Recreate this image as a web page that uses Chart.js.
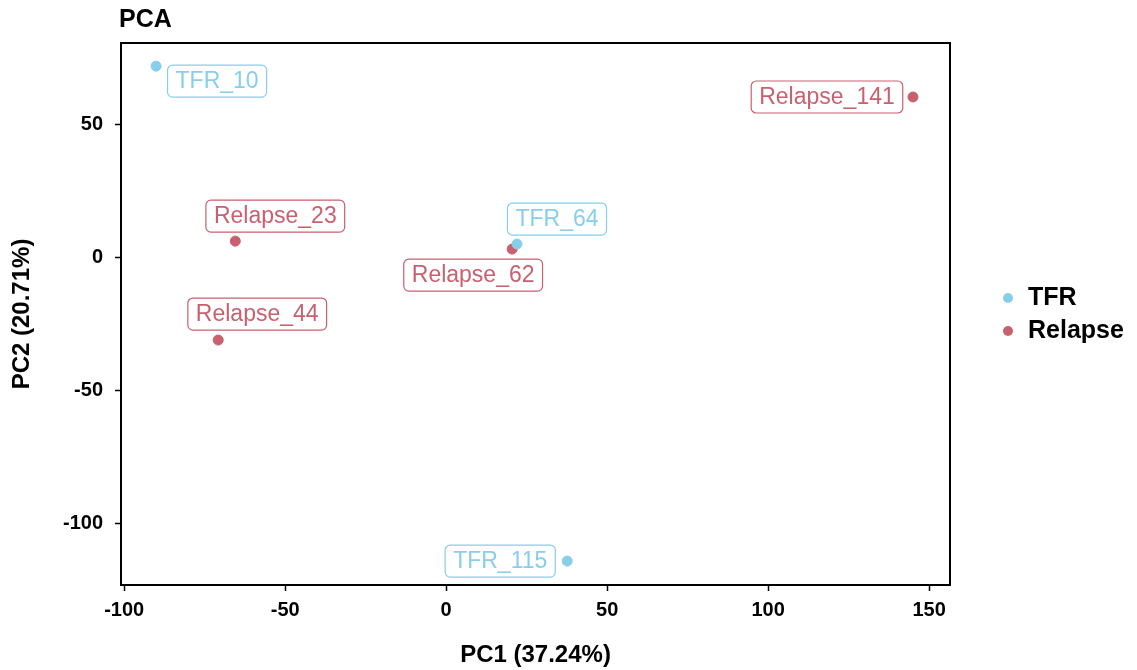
<!DOCTYPE html>
<html>
<head>
<meta charset="utf-8">
<script src="https://cdn.jsdelivr.net/npm/chart.js@4"></script>
<style>
  html, body { margin: 0; padding: 0; background: #fff; }
  #wrap { width: 1137px; height: 670px; }
</style>
</head>
<body>
<div id="wrap"><canvas id="pca"></canvas></div>
<script>
// PCA scatter: two groups, each sample labelled in a boxed tag.
var groupNames = ['TFR', 'Relapse'];

var tfrNames = ['TFR_10', 'TFR_64', 'TFR_115'];
var tfrPC1 = [-90.1, 22.0, 37.6];
var tfrPC2 = [71.8, 4.9, -114.3];

var relapseNames = ['Relapse_141', 'Relapse_23', 'Relapse_62', 'Relapse_44'];
var relapsePC1 = [145.0, -65.5, 20.5, -70.8];
var relapsePC2 = [60.2, 6.0, 3.0, -31.2];

var xTicks = [-100, -50, 0, 50, 100, 150];
var yTicks = [-100, -50, 0, 50];

var colors = { TFR: '#87ceeb', Relapse: '#c9606f' };

// where each tag sits relative to its point, in pixels
var tagOffset = {
  'TFR_10': [61, 15],
  'TFR_64': [40, -25],
  'TFR_115': [-67, 0],
  'Relapse_141': [-86, 0],
  'Relapse_23': [40, -25],
  'Relapse_62': [-39, 26],
  'Relapse_44': [39, -26]
};

var fam = '"Liberation Sans", Arial, Helvetica, sans-serif';

function toPoints(xs, ys, names) {
  return xs.map(function (x, i) { return { x: x, y: ys[i], name: names[i] }; });
}

function roundRect(ctx, x, y, w, h, r) {
  ctx.beginPath();
  ctx.moveTo(x + r, y);
  ctx.lineTo(x + w - r, y);
  ctx.arcTo(x + w, y, x + w, y + r, r);
  ctx.lineTo(x + w, y + h - r);
  ctx.arcTo(x + w, y + h, x + w - r, y + h, r);
  ctx.lineTo(x + r, y + h);
  ctx.arcTo(x, y + h, x, y + h - r, r);
  ctx.lineTo(x, y + r);
  ctx.arcTo(x, y, x + r, y, r);
  ctx.closePath();
}

var extras = {
  id: 'extras',
  afterDatasetsDraw: function (chart) {
    var ctx = chart.ctx;
    var a = chart.chartArea;
    var xs = chart.scales.x, ys = chart.scales.y;
    ctx.save();
    // sample tags
    ctx.font = '23px ' + fam;
    ctx.textAlign = 'center';
    ctx.textBaseline = 'middle';
    chart.data.datasets.forEach(function (ds) {
      ds.data.forEach(function (p) {
        var off = tagOffset[p.name] || [0, 0];
        var cx = xs.getPixelForValue(p.x) + off[0];
        var cy = ys.getPixelForValue(p.y) + off[1];
        var w = ctx.measureText(p.name).width + 16;
        var h = 32;
        roundRect(ctx, cx - w / 2, cy - h / 2, w, h, 5);
        ctx.fillStyle = '#ffffff';
        ctx.fill();
        ctx.lineWidth = 1.2;
        ctx.strokeStyle = ds.backgroundColor;
        ctx.stroke();
        ctx.fillStyle = ds.backgroundColor;
        ctx.fillText(p.name, cx, cy + 1);
      });
    });
    // panel frame
    ctx.lineWidth = 2;
    ctx.strokeStyle = '#000';
    ctx.strokeRect(a.left, a.top, a.right - a.left, a.bottom - a.top);
    ctx.restore();
  },
  afterDraw: function (chart) {
    var ctx = chart.ctx;
    ctx.save();
    ctx.fillStyle = '#000';
    ctx.font = 'bold 25px ' + fam;
    ctx.textAlign = 'left';
    ctx.textBaseline = 'middle';
    ctx.fillText('PCA', 119, 20);
    // legend
    ctx.font = 'bold 25px ' + fam;
    chart.data.datasets.forEach(function (ds, i) {
      var y = 298 + i * 33;
      ctx.beginPath();
      ctx.arc(1008, y, 5, 0, Math.PI * 2);
      ctx.fillStyle = ds.backgroundColor;
      ctx.fill();
      ctx.fillStyle = '#000';
      ctx.fillText(ds.label, 1028, y);
    });
    ctx.restore();
  }
};

var tickFont = { family: fam, size: 20, weight: 'bold' };
var titleFont = { family: fam, size: 24, weight: 'bold' };

new Chart(document.getElementById('pca'), {
  type: 'scatter',
  data: {
    datasets: [
      {
        label: groupNames[0],
        data: toPoints(tfrPC1, tfrPC2, tfrNames),
        backgroundColor: colors.TFR,
        borderColor: colors.TFR,
        pointRadius: 5,
        pointHoverRadius: 5
      },
      {
        label: groupNames[1],
        data: toPoints(relapsePC1, relapsePC2, relapseNames),
        backgroundColor: colors.Relapse,
        borderColor: colors.Relapse,
        pointRadius: 5,
        pointHoverRadius: 5
      }
    ]
  },
  options: {
    responsive: true,
    maintainAspectRatio: false,
    animation: false,
    layout: { padding: { top: 43, right: 187, left: 0, bottom: 0 } },
    plugins: { legend: { display: false }, tooltip: { enabled: false } },
    scales: {
      x: {
        type: 'linear',
        min: -101,
        max: 156.5,
        afterBuildTicks: function (s) { s.ticks = xTicks.map(function (v) { return { value: v }; }); },
        afterFit: function (s) { s.height = 85; },
        grid: { drawOnChartArea: false, drawTicks: true, tickLength: 6, tickWidth: 1.5, color: '#000' },
        border: { display: true, color: '#000', width: 2 },
        ticks: { color: '#000', font: tickFont, padding: 7, maxRotation: 0 },
        title: { display: true, text: 'PC1 (37.24%)', color: '#000', font: titleFont, padding: { top: 10, bottom: 0 } }
      },
      y: {
        type: 'linear',
        min: -123.3,
        max: 80.5,
        afterBuildTicks: function (s) { s.ticks = yTicks.map(function (v) { return { value: v }; }); },
        afterFit: function (s) { s.width = 121; },
        grid: { drawOnChartArea: false, drawTicks: true, tickLength: 6, tickWidth: 1.5, color: '#000' },
        border: { display: true, color: '#000', width: 2 },
        ticks: { color: '#000', font: tickFont, padding: 12 },
        title: { display: true, text: 'PC2 (20.71%)', color: '#000', font: titleFont, padding: { top: 8, bottom: 0 } }
      }
    }
  },
  plugins: [extras]
});
</script>
</body>
</html>
